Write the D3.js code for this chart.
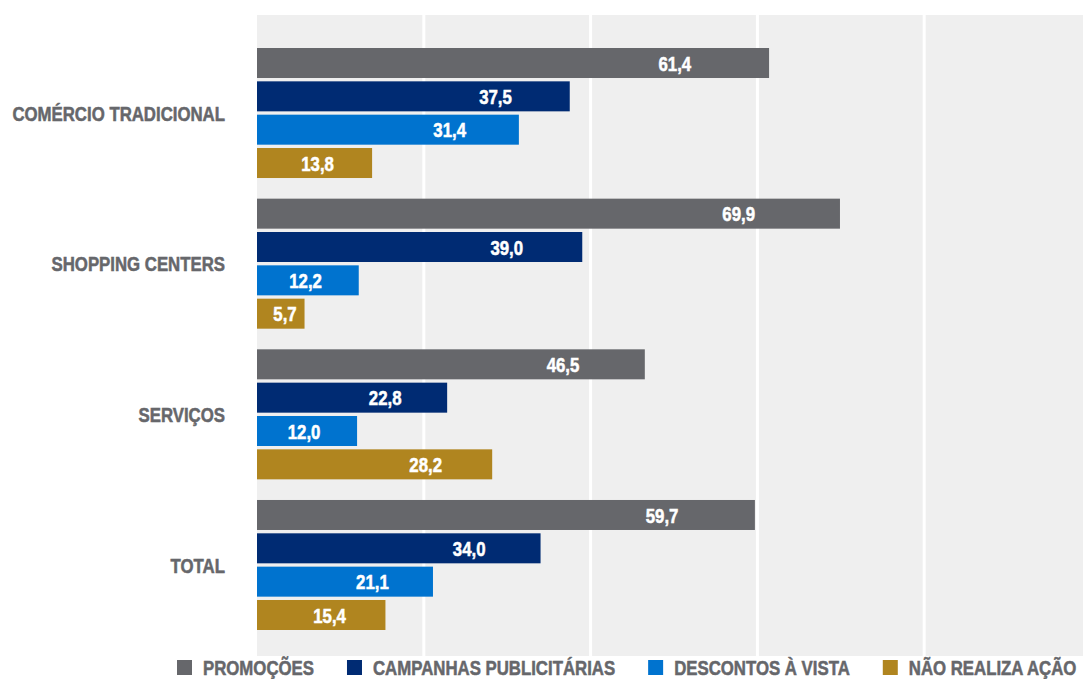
<!DOCTYPE html>
<html>
<head>
<meta charset="utf-8">
<script src="https://cdn.jsdelivr.net/npm/d3@7"></script>
<style>
  html, body { margin: 0; padding: 0; background: #ffffff; }
  svg { display: block; }
  text { font-family: "Liberation Sans", Arial, sans-serif; font-weight: bold; }
</style>
</head>
<body>
<svg id="chart" width="1083" height="679"></svg>
<script>
// Categories (rows) and series (bars inside each row)
const categories = ["COMÉRCIO TRADICIONAL", "SHOPPING CENTERS", "SERVIÇOS", "TOTAL"];
const seriesNames = ["PROMOÇÕES", "CAMPANHAS PUBLICITÁRIAS", "DESCONTOS À VISTA", "NÃO REALIZA AÇÃO"];

// Percent values per series, in category order
const promocoes  = [61.4, 69.9, 46.5, 59.7];
const campanhas  = [37.5, 39.0, 22.8, 34.0];
const descontos  = [31.4, 12.2, 12.0, 21.1];
const naoRealiza = [13.8,  5.7, 28.2, 15.4];

// Grid lines every 20 points
const gridTicks = [20, 40, 60, 80, 100];

const seriesValues = [promocoes, campanhas, descontos, naoRealiza];
const colors = ["#66676b", "#002b73", "#0073cf", "#b0851f"];
const textGray = "#66676b";
const fontSize = 21;
const squeeze = 0.80;   // horizontal condensing of the bold face

const svg = d3.select("#chart");
const W = 1083;

const plot = { left: 257, top: 15, bottom: 656 };

const x = d3.scaleLinear().domain([0, 100]).range([plot.left, plot.left + 834]);

const y = d3.scaleBand()
  .domain(categories)
  .range([48, 630])
  .paddingInner(0.137)
  .paddingOuter(0);

const yInner = d3.scaleBand()
  .domain(seriesNames)
  .range([0, y.bandwidth()])
  .paddingInner(0.1);

// Places a condensed, slightly heavier text at (px, py)
function placeText(sel, px, py) {
  sel.attr("x", 0).attr("y", 0)
    .attr("stroke", function () { return d3.select(this).attr("fill"); })
    .attr("stroke-width", 0.55)
    .attr("transform", (d, i) => `translate(${px(d, i)},${py(d, i)}) scale(${squeeze},1)`);
}

// Plot background
svg.append("rect")
  .attr("x", plot.left).attr("y", plot.top)
  .attr("width", W - plot.left).attr("height", plot.bottom - plot.top)
  .attr("fill", "#efefef");

// Vertical grid lines
svg.append("g")
  .selectAll("line")
  .data(gridTicks)
  .join("line")
  .attr("x1", d => x(d)).attr("x2", d => x(d))
  .attr("y1", plot.top).attr("y2", plot.bottom)
  .attr("stroke", "#ffffff")
  .attr("stroke-width", 3);

// Flatten to one record per bar
const rows = [];
categories.forEach((c, ci) => {
  seriesNames.forEach((s, si) => {
    rows.push({ cat: c, series: s, si, value: seriesValues[si][ci] });
  });
});

const bars = svg.append("g");
bars.selectAll("rect")
  .data(rows)
  .join("rect")
  .attr("x", x(0))
  .attr("y", d => y(d.cat) + yInner(d.series))
  .attr("width", d => x(d.value) - x(0))
  .attr("height", yInner.bandwidth())
  .attr("fill", d => colors[d.si]);

// Value labels inside the bars
const fmt = v => d3.format(".1f")(v).replace(".", ",");
bars.selectAll("text")
  .data(rows)
  .join("text")
  .attr("dy", "0.36em")
  .attr("text-anchor", "middle")
  .attr("fill", "#ffffff")
  .attr("font-size", fontSize)
  .text(d => fmt(d.value))
  .call(placeText,
    d => {
      const w = x(d.value) - x(0);
      return Math.max(x(d.value) - (43 + 0.1 * w), x(0) + 28);
    },
    d => y(d.cat) + yInner(d.series) + yInner.bandwidth() / 2);

// Category labels
svg.append("g")
  .selectAll("text")
  .data(categories)
  .join("text")
  .attr("dy", "0.36em")
  .attr("text-anchor", "end")
  .attr("fill", textGray)
  .attr("font-size", fontSize)
  .text(d => d)
  .call(placeText, () => 225, d => y(d) + y.bandwidth() / 2);

// Legend along the bottom
const legend = svg.append("g");
let lx = 177;
seriesNames.forEach((s, i) => {
  legend.append("rect")
    .attr("x", lx).attr("y", 660)
    .attr("width", 15).attr("height", 15)
    .attr("fill", colors[i]);
  const t = legend.append("text")
    .datum(s)
    .attr("fill", textGray)
    .attr("font-size", fontSize)
    .text(s)
    .call(placeText, () => lx + 26, () => 675);
  lx += 26 + t.node().getComputedTextLength() * squeeze + 33;
});
</script>
</body>
</html>
